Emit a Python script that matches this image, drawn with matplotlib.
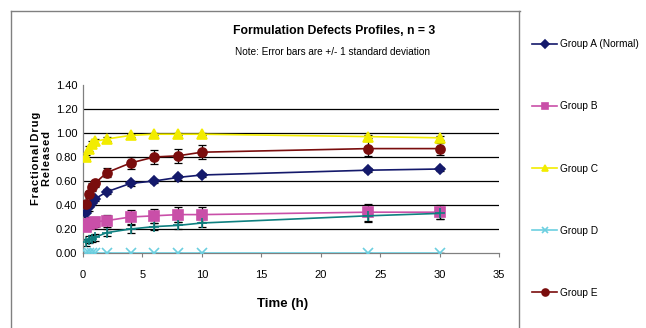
import matplotlib
matplotlib.use("Agg")
import matplotlib.pyplot as plt
from matplotlib.lines import Line2D

plt.rcParams["font.family"] = ["Liberation Sans", "DejaVu Sans"]

# sampling times (h)
time_h = [0.25, 0.5, 0.75, 1, 2, 4, 6, 8, 10, 24, 30]

# mean fractional release per group
group_a = [0.33, 0.38, 0.42, 0.45, 0.51, 0.58, 0.60, 0.63, 0.65, 0.69, 0.70]
group_b = [0.22, 0.24, 0.25, 0.26, 0.27, 0.30, 0.31, 0.32, 0.32, 0.34, 0.34]
group_c = [0.80, 0.87, 0.91, 0.93, 0.95, 0.98, 0.99, 0.99, 0.99, 0.97, 0.96]
group_d = [0.00, 0.00, 0.00, 0.00, 0.00, 0.00, 0.00, 0.00, 0.00, 0.00, 0.00]
group_e = [0.41, 0.49, 0.55, 0.58, 0.67, 0.75, 0.80, 0.81, 0.84, 0.87, 0.87]
group_f = [0.09, 0.11, 0.12, 0.13, 0.17, 0.20, 0.22, 0.23, 0.25, 0.31, 0.33]

# standard deviations
sd_a = [0.03, 0.03, 0.02, 0.02, 0.02, 0.02, 0.02, 0.02, 0.02, 0.015, 0.015]
sd_b = [0.03, 0.03, 0.04, 0.04, 0.05, 0.06, 0.06, 0.06, 0.06, 0.07, 0.06]
sd_c = [0.02, 0.02, 0.02, 0.02, 0.02, 0.01, 0.01, 0.01, 0.01, 0.015, 0.015]
sd_d = [0.00, 0.00, 0.00, 0.00, 0.00, 0.00, 0.00, 0.00, 0.00, 0.00, 0.00]
sd_e = [0.03, 0.03, 0.03, 0.03, 0.04, 0.05, 0.06, 0.06, 0.06, 0.06, 0.05]
sd_f = [0.03, 0.03, 0.03, 0.03, 0.03, 0.03, 0.03, 0.03, 0.03, 0.05, 0.05]

labels = ["Group A (Normal)", "Group B", "Group C", "Group D", "Group E", None]
series = [group_a, group_b, group_c, group_d, group_e, group_f]
errors = [sd_a, sd_b, sd_c, sd_d, sd_e, sd_f]
colors = ["#14196b", "#c94fa8", "#f2ec00", "#6ccfe0", "#7a0d0d", "#0f8080"]
markers = ["D", "s", "^", "x", "o", "+"]
msizes = [5.5, 6.5, 6.5, 6.5, 6.5, 7.5]

fig = plt.figure(figsize=(6.46, 3.28), dpi=100)
ax = fig.add_axes([83 / 646, 1 - 253 / 328, (499 - 83) / 646, (253 - 85) / 328])

handles = []
for y, err, lab, c, m, ms in zip(series, errors, labels, colors, markers, msizes):
    ax.errorbar(time_h, y, yerr=err, fmt="none", ecolor="black",
                elinewidth=0.9, capsize=3, capthick=0.9, zorder=2)
    ax.plot(time_h, y, color=c, marker=m, markersize=ms,
            markeredgewidth=1.2, linewidth=1.2, zorder=3)
    if lab:
        handles.append(Line2D([], [], color=c, marker=m, markersize=ms - 1.5,
                              markeredgewidth=1.2, linewidth=1.2, label=lab))

ax.set_xlim(0, 35)
ax.set_ylim(0, 1.4)
ax.set_xticks(range(0, 36, 5))
ax.set_yticks([0, 0.2, 0.4, 0.6, 0.8, 1.0, 1.2, 1.4])
ax.set_yticklabels([f"{v:.2f}" for v in ax.get_yticks()])
for v in [0.2, 0.4, 0.6, 0.8, 1.0, 1.2]:
    ax.axhline(v, color="black", linewidth=0.9, zorder=1)

for s in ["top", "right"]:
    ax.spines[s].set_visible(False)
for s in ["left", "bottom"]:
    ax.spines[s].set_color("#808080")
    ax.spines[s].set_linewidth(0.9)
ax.tick_params(axis="both", labelsize=8, color="#808080", length=3,
               direction="out")
ax.tick_params(axis="x", pad=9)
ax.tick_params(axis="y", length=0, pad=4)

ax.set_xlabel("Time (h)", fontsize=9.5, fontweight="bold")
ax.xaxis.set_label_coords(0.48, -0.27)
hs = "\u200a"
ax.set_ylabel(hs.join("Fractional") + " " + hs.join("Drug") + "\n"
              + hs.join("Released"), fontsize=8, fontweight="bold",
              linespacing=1.1)
ax.yaxis.set_label_coords(-0.074, 0.565)

fig.text(334 / 646, 1 - 31 / 328, "Formulation Defects Profiles, n = 3",
         ha="center", va="center", fontsize=8.8, fontweight="bold")
fig.text(332 / 646, 1 - 52 / 328, "Note: Error bars are +/- 1 standard deviation",
         ha="center", va="center", fontsize=7.2)

fig.legend(handles=handles, loc="upper left",
           bbox_to_anchor=(527 / 646, 1 - 34 / 328), frameon=False,
           fontsize=7.3, labelspacing=5.15, handlelength=2.5,
           handletextpad=0.3, borderpad=0)

# chart area frame (left, top, legend separator)
gray = "#808080"
fig.add_artist(Line2D([11 / 646, 11 / 646], [0, 1 - 11 / 328], color=gray, lw=1))
fig.add_artist(Line2D([11 / 646, 520 / 646], [1 - 11 / 328, 1 - 11 / 328], color=gray, lw=1))
fig.add_artist(Line2D([519 / 646, 519 / 646], [0, 1 - 11 / 328], color=gray, lw=1))

fig.savefig("out.png", dpi=100)
